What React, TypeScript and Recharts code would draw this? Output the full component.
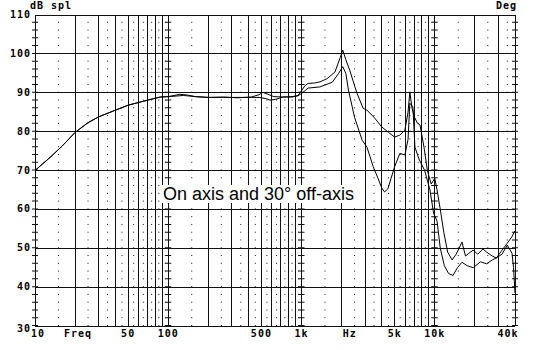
import { LineChart, Line, XAxis, YAxis, ReferenceLine } from "recharts";

// on-axis response (upper curve, 101 dB peak at 2 kHz)
const onAxisFreq = [
  10, 13, 16, 20, 25, 30, 38, 50, 70, 87, 100, 122, 140, 160, 200, 260, 330, 420, 480, 513,
  560, 620, 725, 850, 940, 1000, 1060, 1120, 1250, 1375, 1550, 1780, 1950, 2040, 2150, 2300,
  2600, 2900, 3100, 3500, 4000, 4500, 5000, 5470, 5970, 6300, 6500, 6750, 7050, 7400, 7750,
  8300, 8800, 9400, 10000, 10400, 11000, 11700, 12500, 13500, 14500, 16000, 17000, 18000,
  19400, 21000, 23000, 24500, 27000, 29000, 32000, 35000, 38000, 40000,
];
const onAxisDb = [
  70.0, 73.4, 76.3, 79.8, 82.3, 83.8, 85.2, 86.8, 88.1, 88.9, 89.0, 89.6, 89.4, 89.0, 88.8,
  88.9, 88.7, 88.9, 89.5, 90.1, 89.6, 89.0, 88.9, 89.0, 89.3, 90.5, 91.8, 92.4, 92.5, 92.8,
  93.6, 95.3, 99.0, 101.0, 98.5, 95.8, 90.0, 86.0, 85.5, 83.7, 81.2, 79.8, 78.6, 79.1, 80.4,
  85.0, 90.2, 86.0, 83.7, 82.2, 81.7, 76.0, 70.0, 66.5, 68.0, 65.0, 60.0, 54.0, 49.0, 47.0,
  48.5, 51.6, 48.0, 48.7, 49.5, 48.5, 49.8, 49.0, 48.0, 47.5, 49.5, 51.3, 53.0, 54.5,
];

// 30° off-axis response (deep dip near 4 kHz)
const offAxisFreq = [
  10, 13, 16, 20, 25, 30, 38, 50, 70, 87, 100, 130, 160, 200, 260, 330, 420, 480, 540, 580,
  640, 725, 850, 940, 1000, 1060, 1120, 1375, 1700, 1900, 2040, 2150, 2250, 2500, 2850, 3100,
  3450, 3750, 4000, 4200, 4450, 4700, 5000, 5470, 5970, 6300, 6500, 6850, 7100, 7600, 8400,
  9200, 9800, 10400, 11000, 11800, 12700, 13700, 14800, 16000, 17500, 19400, 22000, 24500,
  27000, 29000, 32000, 35000, 38000, 39000, 40000,
];
const offAxisDb = [
  70.0, 73.4, 76.3, 79.8, 82.3, 83.8, 85.2, 86.8, 88.1, 88.9, 89.0, 89.3, 89.0, 88.8, 88.8,
  88.8, 88.8, 88.8, 88.5, 88.1, 88.3, 88.9, 88.9, 89.2, 89.8, 90.5, 91.2, 91.5, 92.7, 95.0,
  96.7, 95.0, 90.7, 83.7, 77.8, 76.0, 71.0, 68.0, 65.5, 64.5, 65.3, 68.0, 71.0, 74.4, 74.0,
  78.0, 87.3, 86.4, 76.0, 73.0, 70.0, 65.0, 59.0, 57.0, 50.0, 45.5, 43.5, 43.0, 45.0, 46.4,
  45.5, 45.0, 46.5, 46.0, 47.0, 47.5, 48.5, 50.8, 48.7, 45.0, 38.5,
];

const dbTicks = [30, 40, 50, 60, 70, 80, 90, 100, 110];
const degTicks = [-180, -135, -90, -45, 0, 45, 90, 135, 180];
const freqTicks = [10, 21, 50, 100, 500, 1000, 2300, 5000, 10000, 40000];
const freqLabels = ["10", "Freq", "50", "100", "500", "1k", "Hz", "5k", "10k", "40k"];

const decades = [10, 100, 1000, 10000];
const lineSteps = [1, 2, 3, 4, 5, 6, 7, 8, 9];
const dotSteps = [1.5, 2.5, 3.5, 4.5, 5.5, 6.5, 7.5, 8.5, 9.5];

const solidFreqs = decades.flatMap((d) => lineSteps.map((s) => s * d)).filter((f) => f <= 40000);
const dottedFreqs = decades.flatMap((d) => dotSteps.map((s) => s * d)).filter((f) => f < 40000);

const onAxis = onAxisFreq.map((f, i) => ({ f, db: onAxisDb[i] }));
const offAxis = offAxisFreq.map((f, i) => ({ f, db: offAxisDb[i] }));

const MONO = '"DejaVu Sans Mono", monospace';
const INK = "#111";
const DOTS = "1 6.775"; // one dot every 2 dB

const labelStyle = {
  fontFamily: MONO,
  fontSize: 10,
  fontWeight: "bold" as const,
  letterSpacing: 1,
  fill: "#000",
};

function FreqTick(props: any) {
  const { x, y, payload } = props;
  const idx = freqTicks.indexOf(payload.value);
  const dx = idx === 0 ? 3 : idx === freqTicks.length - 1 ? -7 : 0;
  return (
    <text x={x + dx} y={y + 11} textAnchor="middle" {...labelStyle}>
      {freqLabels[idx]}
    </text>
  );
}

function DbTick(props: any) {
  const { x, y, payload } = props;
  const dy = payload.value === 30 ? 6 : 3;
  return (
    <text x={x - 4} y={y + dy} textAnchor="end" {...labelStyle}>
      {payload.value}
    </text>
  );
}

function DegTick(props: any) {
  const { y, payload } = props;
  const dy = payload.value === -180 ? 6 : 3;
  return (
    <text x={546} y={y + dy} textAnchor="end" {...labelStyle}>
      {payload.value}
    </text>
  );
}

export default function App() {
  return (
    <div style={{ position: "absolute", left: 0, top: 0, width: 550, height: 350, background: "#fff" }}>
      <LineChart width={550} height={350} margin={{ top: 15, right: 0, bottom: 0, left: 0 }}>
        <XAxis
          dataKey="f"
          type="number"
          scale="log"
          domain={[10, 40000]}
          allowDataOverflow
          ticks={freqTicks}
          interval={0}
          height={24}
          axisLine={false}
          tickLine={false}
          tickSize={0}
          tickMargin={0}
          tick={<FreqTick />}
        />
        <YAxis
          yAxisId="db"
          domain={[30, 110]}
          ticks={dbTicks}
          interval={0}
          width={35}
          axisLine={false}
          tickLine={false}
          tickSize={0}
          tickMargin={0}
          tick={<DbTick />}
        />
        <YAxis
          yAxisId="deg"
          orientation="right"
          domain={[-180, 180]}
          ticks={degTicks}
          interval={0}
          width={35}
          axisLine={false}
          tickLine={false}
          tickSize={0}
          tickMargin={0}
          tick={<DegTick />}
        />

        {dottedFreqs.map((f) => (
          <ReferenceLine key={`d${f}`} yAxisId="db" x={f} stroke={INK} strokeWidth={1} strokeDasharray={DOTS} ifOverflow="visible" />
        ))}
        {solidFreqs.map((f) => (
          <ReferenceLine
            key={`s${f}`}
            yAxisId="db"
            x={f}
            stroke={INK}
            strokeWidth={1}
            shapeRendering="crispEdges"
            ifOverflow="visible"
          />
        ))}
        {[10, 100, 1000, 10000, 40000].map((f) => (
          <ReferenceLine key={`t${f}`} yAxisId="db" x={f} stroke={INK} strokeWidth={6} strokeDasharray={DOTS} ifOverflow="visible" />
        ))}
        {dbTicks.map((v) => (
          <ReferenceLine
            key={`h${v}`}
            yAxisId="db"
            y={v}
            stroke={INK}
            strokeWidth={1}
            shapeRendering="crispEdges"
            ifOverflow="visible"
          />
        ))}

        <Line
          yAxisId="db"
          data={onAxis}
          dataKey="db"
          type="linear"
          stroke="#000"
          strokeWidth={1}
          dot={false}
          isAnimationActive={false}
        />
        <Line
          yAxisId="db"
          data={offAxis}
          dataKey="db"
          type="linear"
          stroke="#000"
          strokeWidth={1}
          dot={false}
          isAnimationActive={false}
        />
      </LineChart>

      <div style={{ position: "absolute", left: 30, top: 1, font: `bold 10px/10px ${MONO}`, letterSpacing: 1 }}>
        dB spl
      </div>
      <div style={{ position: "absolute", left: 496, top: 1, font: `bold 10px/10px ${MONO}`, letterSpacing: 1 }}>
        Deg
      </div>
      <div
        style={{
          position: "absolute",
          left: 162,
          top: 185,
          padding: "0 1px",
          background: "#fff",
          font: '18px/18px "Liberation Sans", Arial, sans-serif',
          whiteSpace: "nowrap",
          color: "#000",
        }}
      >
        On axis and 30° off-axis
      </div>
    </div>
  );
}
